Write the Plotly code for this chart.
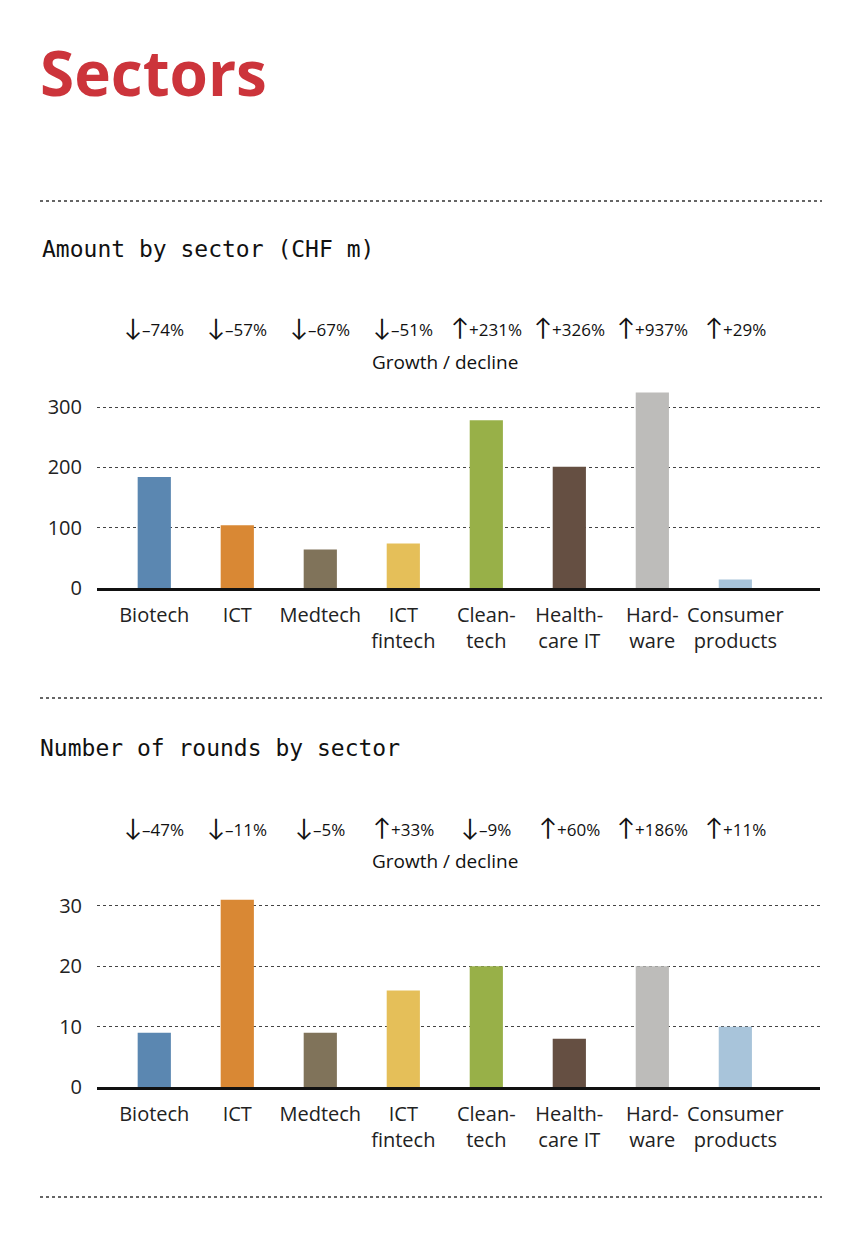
import plotly.graph_objects as go

# ============================================================
# Data
# ============================================================
sectors = ["Biotech", "ICT", "Medtech", "ICT fintech", "Cleantech",
           "Healthcare IT", "Hardware", "Consumer products"]
tick_labels = ["Biotech", "ICT", "Medtech", "ICT<br>fintech", "Clean-<br>tech",
               "Health-<br>care IT", "Hard-<br>ware", "Consumer<br>products"]
bar_colors = ["#5b87b1", "#d98834", "#80735a", "#e5bf59", "#98b048",
              "#654f42", "#bdbcba", "#a8c4da"]

amount_chf_m = [184, 104, 64, 74, 278, 201, 324, 14]
amount_growth = ["-74%", "-57%", "-67%", "-51%", "+231%", "+326%", "+937%", "+29%"]

rounds = [9, 31, 9, 16, 20, 8, 20, 10]
rounds_growth = ["-47%", "-11%", "-5%", "+33%", "-9%", "+60%", "+186%", "+11%"]

amount_ticks = [0, 100, 200, 300]
rounds_ticks = [0, 10, 20, 30]

# ============================================================
# Page geometry (reference pixels -> paper)
# body margin is 8px, so the figure is 16px smaller than the window
# ============================================================
OFF = 8
W, H = 848 - 2 * OFF, 1243 - 2 * OFF
RED = "#cc343b"
SANS = "'Open Sans', Lato, sans-serif"
MONO = "'DejaVu Sans Mono', 'Liberation Mono', monospace"


def px(x):
    return (x - OFF) / W


def py(y):
    return 1 - (y - OFF) / H


x_range = [-0.69, 8.02]
x_dom = [px(97), px(820)]

fig = go.Figure()

fig.add_trace(go.Bar(x=sectors, y=amount_chf_m, marker_color=bar_colors,
                     marker_line_width=0, xaxis="x", yaxis="y", showlegend=False))
fig.add_trace(go.Bar(x=sectors, y=rounds, marker_color=bar_colors,
                     marker_line_width=0, xaxis="x2", yaxis="y2", showlegend=False))

axis_x = dict(range=x_range, domain=x_dom, tickmode="array", tickvals=sectors,
              ticktext=tick_labels, showline=True, linecolor="#111", linewidth=2.5,
              showgrid=False, ticks="", ticklabelstandoff=7, automargin=False,
              tickfont=dict(family=SANS, size=20, color="#222"), fixedrange=True)
axis_y = dict(showgrid=True, gridcolor="#444", griddash="dot", gridwidth=1,
              zeroline=False, showline=False, ticks="", automargin=False,
              tickfont=dict(family=SANS, size=20, color="#222"),
              ticklabelstandoff=14, fixedrange=True)

fig.update_layout(
    width=W, height=H,
    margin=dict(l=0, r=0, t=0, b=0, autoexpand=False),
    paper_bgcolor="white", plot_bgcolor="white",
    bargap=0.6,
    xaxis=dict(axis_x, anchor="y"),
    yaxis=dict(axis_y, anchor="x", range=[0, 330], tickvals=amount_ticks,
               domain=[py(588), py(389)]),
    xaxis2=dict(axis_x, anchor="y2"),
    yaxis2=dict(axis_y, anchor="x2", range=[0, 32.3], tickvals=rounds_ticks,
                domain=[py(1087), py(892)]),
)

# ============================================================
# Texts
# ============================================================
ann = []
ann.append(dict(text="<b>Sectors</b>", x=px(38), y=py(72), xref="paper", yref="paper",
                xanchor="left", yanchor="middle", showarrow=False,
                font=dict(family=SANS, size=62, color=RED)))
ann.append(dict(text="Amount by sector (CHF m)", x=px(40), y=py(249), xref="paper",
                yref="paper", xanchor="left", yanchor="middle", showarrow=False,
                font=dict(family=MONO, size=23, color="#111")))
ann.append(dict(text="Number of rounds by sector", x=px(38), y=py(748), xref="paper",
                yref="paper", xanchor="left", yanchor="middle", showarrow=False,
                font=dict(family=MONO, size=23, color="#111")))

for xa, growth, gy, ly in [("x", amount_growth, 327, 362), ("x2", rounds_growth, 826, 861)]:
    for s, g in zip(sectors, growth):
        arrow = "↓" if g.startswith("-") else "↑"
        label = g.replace("-", "–")
        ann.append(dict(text=f'<span style="font-size:24px">{arrow}</span>{label}',
                        x=s, y=py(gy), xref=xa, yref="paper", xanchor="center",
                        yanchor="middle", showarrow=False,
                        font=dict(family=SANS, size=17, color="#111")))
    ann.append(dict(text="Growth / decline", x=px(445), y=py(ly), xref="paper",
                    yref="paper", xanchor="center", yanchor="middle", showarrow=False,
                    font=dict(family=SANS, size=19, color="#111")))

fig.update_layout(annotations=ann)

# dotted separators
for sy in [201, 698, 1197]:
    fig.add_shape(type="line", xref="paper", yref="paper", x0=px(40), x1=px(822),
                  y0=py(sy), y1=py(sy), line=dict(color="#333", width=1.5, dash="dot"))

fig.write_html("out.html")
